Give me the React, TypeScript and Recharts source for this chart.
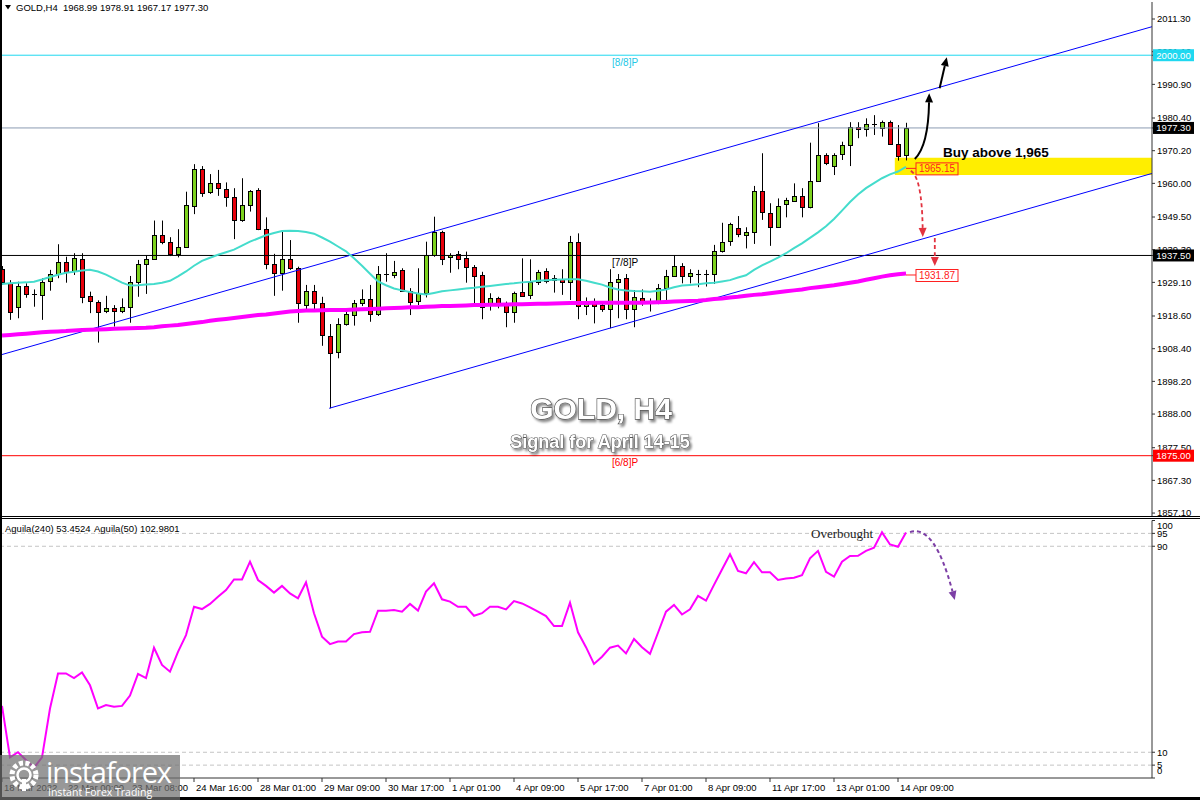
import React from 'react';
import {
  ComposedChart,
  Bar,
  Line,
  XAxis,
  YAxis,
  ReferenceLine,
  ReferenceArea,
  ReferenceDot,
} from 'recharts';

const FONT = '"Liberation Sans", Arial, Helvetica, sans-serif';

// ---------- price data (H4 candles) ----------
const opens = [
  1933.2, 1929.0, 1921.3, 1928.0, 1925.4, 1925.1, 1929.5, 1931.6, 1935.4, 1932.4,
  1936.4, 1924.8, 1923.1, 1920.0, 1921.0, 1920.0, 1921.3, 1929.1, 1934.8, 1936.4,
  1943.8, 1941.6, 1937.9, 1940.2, 1953.2, 1964.6, 1957.2, 1960.0, 1958.3, 1955.7,
  1948.4, 1953.2, 1957.9, 1945.7, 1934.8, 1931.9, 1936.3, 1933.5, 1922.0, 1926.4,
  1922.6, 1912.5, 1907.3, 1916.0, 1918.7, 1922.6, 1923.8, 1919.1, 1931.7, 1931.2,
  1933.0, 1926.5, 1923.1, 1925.7, 1937.6, 1944.9, 1936.9, 1937.9, 1936.6, 1933.8,
  1931.5, 1921.8, 1924.1, 1922.3, 1919.8, 1926.0, 1924.9, 1929.1, 1932.6, 1929.7,
  1930.3, 1929.3, 1941.8, 1921.9, 1923.1, 1922.0, 1920.8, 1929.3, 1930.4, 1921.0,
  1924.1, 1922.6, 1922.6, 1927.3, 1931.2, 1934.3, 1930.9, 1931.7, 1931.7, 1931.7,
  1939.0, 1941.8, 1946.2, 1944.1, 1944.9, 1957.7, 1950.8, 1946.5, 1953.6, 1954.6,
  1956.2, 1952.7, 1960.8, 1968.9, 1965.5, 1969.1, 1972.0, 1977.5, 1976.9, 1978.4,
  1977.2, 1979.2, 1972.2, 1968.99,
];
const highs = [
  1934.2, 1929.8, 1929.3, 1928.8, 1926.9, 1930.4, 1933.0, 1941.0, 1937.1, 1938.2,
  1938.2, 1926.2, 1923.5, 1924.9, 1922.0, 1924.1, 1931.1, 1936.1, 1937.6, 1948.4,
  1948.4, 1943.2, 1945.7, 1957.4, 1966.0, 1965.4, 1962.9, 1964.2, 1960.3, 1958.5,
  1961.6, 1957.9, 1958.5, 1949.4, 1938.0, 1945.4, 1942.3, 1934.0, 1928.3, 1928.3,
  1924.6, 1916.1, 1917.9, 1920.0, 1923.6, 1926.9, 1928.3, 1934.2, 1938.2, 1935.8,
  1933.5, 1927.3, 1933.5, 1941.8, 1949.6, 1945.2, 1938.2, 1938.9, 1938.7, 1934.5,
  1932.4, 1925.7, 1924.6, 1923.1, 1926.2, 1936.6, 1936.3, 1933.0, 1933.5, 1931.4,
  1933.2, 1943.6, 1944.4, 1924.4, 1924.1, 1923.1, 1933.2, 1931.7, 1931.7, 1926.7,
  1926.9, 1924.1, 1928.6, 1933.0, 1937.6, 1935.1, 1933.2, 1933.0, 1933.0, 1940.8,
  1947.7, 1947.7, 1949.8, 1946.3, 1959.2, 1969.4, 1953.8, 1955.3, 1955.5, 1960.0,
  1958.5, 1972.7, 1978.8, 1969.4, 1969.4, 1973.0, 1979.1, 1979.1, 1980.3, 1981.3,
  1979.6, 1979.6, 1978.2, 1978.91,
];
const lows = [
  1928.3, 1917.4, 1917.9, 1924.3, 1921.5, 1917.4, 1926.5, 1930.4, 1929.0, 1931.4,
  1922.6, 1919.5, 1910.3, 1919.5, 1915.3, 1919.5, 1916.5, 1924.6, 1925.5, 1936.1,
  1941.0, 1937.3, 1936.9, 1940.0, 1950.4, 1955.8, 1956.7, 1956.1, 1952.7, 1942.6,
  1948.0, 1951.2, 1945.4, 1933.2, 1924.9, 1926.5, 1933.0, 1916.5, 1920.7, 1920.7,
  1909.3, 1889.8, 1905.4, 1915.6, 1915.6, 1921.7, 1916.8, 1918.6, 1929.3, 1930.4,
  1926.2, 1918.9, 1922.0, 1924.4, 1937.1, 1934.5, 1932.1, 1933.2, 1929.0, 1922.6,
  1917.6, 1920.3, 1921.0, 1915.1, 1916.5, 1924.6, 1923.9, 1928.3, 1928.8, 1925.9,
  1925.2, 1923.6, 1917.6, 1918.9, 1916.3, 1919.9, 1914.8, 1917.9, 1917.6, 1915.1,
  1921.8, 1920.0, 1922.3, 1923.1, 1930.9, 1928.8, 1928.8, 1927.6, 1927.8, 1928.6,
  1938.4, 1940.5, 1943.2, 1939.7, 1941.1, 1948.6, 1940.5, 1946.2, 1949.4, 1954.3,
  1949.4, 1952.2, 1960.5, 1965.7, 1962.6, 1967.3, 1965.4, 1974.1, 1974.6, 1975.1,
  1974.6, 1972.0, 1967.1, 1967.17,
];
const closes = [
  1929.0, 1920.0, 1928.0, 1925.4, 1925.3, 1929.3, 1931.6, 1935.4, 1932.4, 1936.6,
  1924.6, 1923.1, 1920.0, 1921.0, 1920.0, 1921.3, 1929.1, 1934.8, 1936.4, 1943.8,
  1941.6, 1937.9, 1940.2, 1953.2, 1964.6, 1957.2, 1960.0, 1958.3, 1955.7, 1948.4,
  1953.2, 1957.6, 1945.7, 1934.8, 1931.9, 1936.3, 1933.5, 1922.6, 1926.4, 1922.6,
  1912.5, 1907.3, 1916.0, 1919.1, 1922.6, 1923.8, 1919.1, 1931.7, 1931.4, 1932.2,
  1926.5, 1923.1, 1925.7, 1937.6, 1944.7, 1936.6, 1937.6, 1936.4, 1933.8, 1930.9,
  1921.5, 1924.1, 1922.3, 1919.8, 1925.7, 1924.9, 1929.1, 1932.2, 1929.6, 1930.4,
  1929.3, 1941.8, 1921.7, 1923.1, 1922.0, 1920.8, 1929.3, 1930.1, 1920.8, 1924.6,
  1922.6, 1922.7, 1927.3, 1931.2, 1934.3, 1931.2, 1931.9, 1931.75, 1931.8, 1939.0,
  1941.8, 1947.2, 1944.2, 1944.9, 1957.7, 1951.0, 1946.5, 1953.0, 1954.8, 1956.2,
  1952.7, 1960.8, 1968.9, 1966.3, 1968.9, 1972.0, 1977.5, 1976.9, 1978.4, 1978.0,
  1979.2, 1972.2, 1968.6, 1977.3,
];
// moving averages (cyan fast, magenta slow)
const maFast = [
  1928.6, 1928.8, 1929.0, 1929.1, 1929.3, 1930.0, 1930.8, 1931.5, 1932.1, 1932.4,
  1932.8, 1933.0, 1932.5, 1931.5, 1930.3, 1929.0, 1928.1, 1928.2, 1928.4, 1928.6,
  1929.0, 1929.6, 1931.0, 1932.5, 1934.3, 1935.8, 1936.8, 1937.7, 1938.5, 1939.3,
  1940.6, 1941.8, 1942.8, 1943.8, 1944.5, 1945.1, 1945.2, 1945.1, 1944.8, 1944.3,
  1943.1, 1941.8, 1940.3, 1938.8, 1936.6, 1934.3, 1931.8, 1929.4, 1928.2, 1927.2,
  1926.6, 1926.1, 1925.6, 1925.3, 1925.8, 1926.3, 1926.6, 1926.9, 1927.2, 1927.4,
  1927.7, 1928.0, 1928.3, 1928.6, 1928.8, 1929.1, 1929.3, 1929.6, 1929.8, 1929.9,
  1930.0, 1930.1, 1930.1, 1929.6, 1929.0, 1928.4, 1927.5, 1926.9, 1926.6, 1926.4,
  1926.3, 1926.2, 1926.5, 1926.9, 1927.6, 1928.1, 1928.3, 1928.5, 1928.8, 1929.0,
  1929.4, 1929.8, 1930.6, 1931.3, 1933.0, 1934.4, 1935.6, 1936.8, 1938.2, 1939.8,
  1941.3, 1943.0, 1944.7, 1946.6, 1948.9, 1951.5, 1954.2, 1956.5, 1958.5, 1960.1,
  1961.6, 1962.8, 1963.7, 1965.15,
];
const maSlow = [
  1912.5, 1912.7, 1912.9, 1913.1, 1913.3, 1913.5, 1913.7, 1913.8, 1913.9, 1914.1,
  1914.2, 1914.3, 1914.4, 1914.5, 1914.6, 1914.7, 1914.8, 1914.85, 1914.9, 1915.1,
  1915.4, 1915.6, 1915.8, 1916.1, 1916.4, 1916.7, 1917.1, 1917.4, 1917.7, 1918.0,
  1918.3, 1918.6, 1918.9, 1919.1, 1919.4, 1919.7, 1920.0, 1920.2, 1920.3, 1920.35,
  1920.4, 1920.45, 1920.5, 1920.5, 1920.6, 1920.7, 1920.8, 1920.9, 1921.0, 1921.1,
  1921.2, 1921.3, 1921.35, 1921.5, 1921.6, 1921.7, 1921.7, 1921.8, 1921.9, 1922.0,
  1922.05, 1922.1, 1922.15, 1922.2, 1922.25, 1922.3, 1922.35, 1922.4, 1922.45, 1922.5,
  1922.6, 1922.65, 1922.7, 1922.7, 1922.75, 1922.75, 1922.75, 1922.75, 1922.75, 1922.75,
  1922.75, 1922.8, 1922.9, 1923.0, 1923.1, 1923.2, 1923.3, 1923.4, 1923.6, 1923.9,
  1924.1, 1924.4, 1924.6, 1924.9, 1925.2, 1925.4, 1925.7, 1926.0, 1926.3, 1926.6,
  1926.9, 1927.3, 1927.6, 1927.9, 1928.2, 1928.6, 1929.0, 1929.4, 1929.9, 1930.4,
  1930.9, 1931.3, 1931.65, 1931.87,
];
// oscillator (Aguila 240)
const aguila = [
  28, 8, 10, 7, 4, 8, 27, 40.6, 40.6, 38.8,
  41, 36, 27, 28.3, 27.7, 28, 32, 40.4, 38.8, 50.6,
  43.9, 41.3, 49, 55.5, 66.5, 65.6, 67.6, 70.4, 73, 77.1,
  77.1, 84, 76.9, 74.6, 72, 74.6, 71.7, 69.8, 76, 64,
  54.9, 52, 53, 53, 55.9, 56.6, 56.8, 65, 65, 65.2,
  64.6, 67.6, 65, 72.4, 75.6, 69.4, 68.5, 66.5, 66.5, 63,
  64, 66.5, 66.5, 65.5, 68.7, 67.8, 66.3, 64.6, 62.9, 59,
  59, 68.1, 56.6, 50.8, 44.3, 47.1, 50.6, 51.4, 48.4, 54,
  50.8, 48.2, 56.4, 64.6, 67.2, 63.5, 65.5, 70.7, 68.9, 75,
  81, 86.9, 80.4, 79.5, 83.8, 79.9, 79.9, 76.9, 77.5, 77.8,
  78.8, 85.3, 88.2, 80.1, 78.2, 84, 86.2, 86.3, 88.2, 89.4,
  95.4, 90.7, 89.8, 95.3,
];

// axis ticks / labels
const timeTickIdx = [0, 8, 16, 24, 32, 40, 48, 56, 64, 72, 80, 88, 96, 104, 112];
const timeTickLabels = [
  '18 Mar 2022', '22 Mar 00:00', '23 Mar 08:00', '24 Mar 16:00', '28 Mar 01:00',
  '29 Mar 09:00', '30 Mar 17:00', '1 Apr 01:00', '4 Apr 09:00', '5 Apr 17:00',
  '7 Apr 01:00', '8 Apr 09:00', '11 Apr 17:00', '13 Apr 01:00', '14 Apr 09:00',
];
const priceTicks = [
  2011.3, 2001.1, 1990.9, 1980.4, 1970.2, 1960.0, 1949.5, 1939.3,
  1929.1, 1918.6, 1908.4, 1898.2, 1888.0, 1877.5, 1867.3, 1857.1,
];
const oscTicks = [0, 5, 10, 90, 95, 100];
const oscLevels = [95, 90, 10, 5];

// horizontal levels
const levelPrices = [2000.0, 1977.3, 1937.5, 1875.0];
const levelTags = ['[8/8]P', '', '[7/8]P', '[6/8]P'];
const levelColors = ['#1fd8f0', '#8c9cb2', '#000000', '#ff0000'];
const levelTagColors = ['#22c8e6', '#000000', '#000000', '#ff0000'];
const levelBoxColors = ['#1fd8f0', '#000000', '#000000', '#ff0000'];

// channel (index, price)
const channelUpper = [[-0.25, 1906.4], [143.75, 2008.9]];
const channelLower = [[40.9, 1889.8], [143.75, 1963.1]];
// buy zone
const buyZone = { x1: 111.6, x2: 143.75, y1: 1962.6, y2: 1968.0 };

// annotation arrows [fromIdx, fromVal, toIdx, toVal]
const priceArrows = [
  { p: [114.1, 1967.6, 115.9, 1988.1], color: '#000', dashed: false, bend: [0.94, 0.2], w: 2 },
  { p: [117.2, 1989.7, 118.1, 1999.4], color: '#000', dashed: false, bend: [0.5, 0.5], w: 2 },
  { p: [113.6, 1963.9, 115.1, 1943.3], color: '#e2323f', dashed: true, bend: [0.92, 0.1], w: 1.8 },
  { p: [116.6, 1942.95, 116.6, 1934.2], color: '#e2323f', dashed: true, bend: [0.5, 0.5], w: 1.8 },
];
const oscArrows = [
  { p: [113.5, 95.5, 119.1, 69.1], color: '#7d3fa6', dashed: true, bend: [0.55, -0.12], w: 2 },
];

const X_DOMAIN: [number, number] = [-0.25, 143.75];
const Y_DOMAIN: [number, number] = [1856.18, 2016.61];

const candles = opens.map((o, i) => ({
  i,
  o,
  h: highs[i],
  l: lows[i],
  c: closes[i],
  fast: maFast[i],
  slow: maSlow[i],
}));
const oscData = aguila.map((v, i) => ({ i, v }));
// level boxes are drawn as the last ticks so they sit on top of regular ticks
const priceAxisTicks = [...priceTicks, ...levelPrices];

const GREEN = '#7dd21e';
const RED = '#e8000b';

function Candle(props: any) {
  const { x, y, width, height, payload } = props;
  if (!payload || !isFinite(y)) return null;
  const { o, h, l, c } = payload;
  const k = height / (h - l || 1);
  const cx = Math.floor(x + width / 2) + 0.5;
  const yTop = y + (h - Math.max(o, c)) * k;
  const yBot = y + (h - Math.min(o, c)) * k;
  const bodyH = yBot - yTop;
  const up = c >= o;
  const top = Math.round(yTop) + 0.5;
  return (
    <g>
      <line x1={cx} x2={cx} y1={y} y2={y + height} stroke="#000" strokeWidth={1} />
      {bodyH < 1.3 ? (
        <line x1={cx - 2.5} x2={cx + 2.5} y1={top} y2={top} stroke="#000" strokeWidth={1} />
      ) : (
        <rect
          x={cx - 2}
          y={top}
          width={4}
          height={Math.max(1, Math.round(bodyH))}
          fill={up ? GREEN : RED}
          stroke="#000"
          strokeWidth={1}
        />
      )}
    </g>
  );
}

const arrowShape = (a: any) => (p: any) => {
  const { x1, y1, x2, y2 } = p;
  if (![x1, y1, x2, y2].every((v) => isFinite(v))) return null;
  const qx = x1 + (x2 - x1) * a.bend[0];
  const qy = y1 + (y2 - y1) * a.bend[1];
  let ang = Math.atan2(y2 - qy, x2 - qx);
  if (Math.abs(x2 - qx) < 0.01 && Math.abs(y2 - qy) < 0.01) ang = Math.atan2(y2 - y1, x2 - x1);
  const L = 9;
  const W = 4;
  const bx = x2 - L * Math.cos(ang);
  const by = y2 - L * Math.sin(ang);
  const px = -Math.sin(ang) * W;
  const py = Math.cos(ang) * W;
  return (
    <g>
      <path
        d={`M${x1},${y1} Q${qx},${qy} ${bx},${by}`}
        fill="none"
        stroke={a.color}
        strokeWidth={a.w}
        strokeDasharray={a.dashed ? '4 3' : undefined}
      />
      <polygon points={`${x2},${y2} ${bx + px},${by + py} ${bx - px},${by - py}`} fill={a.color} />
    </g>
  );
};

const levelTag = (idx: number) => (props: any) => {
  const vb = props.viewBox || {};
  if (!levelTags[idx]) return null;
  return (
    <text
      x={(vb.x ?? 0) + 612}
      y={(vb.y ?? 0) + 7}
      dy="0.35em"
      fontSize={10}
      fontFamily={FONT}
      fill={levelTagColors[idx]}
    >
      {levelTags[idx]}
    </text>
  );
};

const PriceTick = (p: any) => {
  const v = p.payload?.value;
  const k = levelPrices.indexOf(v);
  if (k >= 0) {
    const x = p.x - 4;
    return (
      <g>
        <rect x={x} y={p.y - 6} width={41} height={12} fill={levelBoxColors[k]} />
        <text x={x + 20.5} y={p.y} dy="0.35em" textAnchor="middle" fontSize={9.5} fontFamily={FONT} fill="#fff">
          {Number(v).toFixed(2)}
        </text>
      </g>
    );
  }
  return (
    <text x={p.x} y={p.y} dy="0.35em" textAnchor="start" fontSize={9.5} fontFamily={FONT} fill="#000">
      {Number(v).toFixed(2)}
    </text>
  );
};

const valueTag = (text: string) => (p: any) => {
  const { cx, cy } = p;
  if (!isFinite(cx) || !isFinite(cy)) return null;
  const yy = cy + 1.5;
  return (
    <g>
      <line x1={cx} x2={cx + 10} y1={yy} y2={yy} stroke="#ff2020" strokeWidth={1} />
      <rect x={cx + 10} y={yy - 5.5} width={42} height={12} fill="none" stroke="#ff2020" strokeWidth={1} />
      <text x={cx + 31} y={yy + 0.5} dy="0.35em" textAnchor="middle" fontSize={10} fontFamily={FONT} fill="#ff2020">
        {text}
      </text>
    </g>
  );
};

const XTick = (p: any) => {
  const k = timeTickIdx.indexOf(p.payload?.value);
  if (k < 0) return null;
  return (
    <text x={p.x + 2} y={p.y} dy="0.71em" textAnchor="start" fontSize={9.5} fontFamily={FONT} fill="#000">
      {timeTickLabels[k]}
    </text>
  );
};

const OscTick = (p: any) => {
  const v = p.payload?.value;
  const dy = v === 100 ? 5.5 : v === 0 ? -7 : 0;
  return (
    <text x={p.x} y={p.y + dy} dy="0.35em" textAnchor="start" fontSize={9.5} fontFamily={FONT} fill="#000">
      {v}
    </text>
  );
};

export default function App() {
  return (
    <div style={{ position: 'relative', width: 1200, height: 800, background: '#fff', overflow: 'hidden' }}>
      <style>{'body{margin:0;background:#fff}'}</style>

      {/* price panel */}
      <div style={{ position: 'absolute', left: 0, top: 0 }}>
        <ComposedChart width={1200} height={520} data={candles} margin={{ top: 2, right: 0, bottom: 4, left: 0 }}>
          <XAxis type="number" dataKey="i" domain={X_DOMAIN} allowDataOverflow hide />
          <YAxis
            orientation="right"
            width={48}
            type="number"
            domain={Y_DOMAIN}
            allowDataOverflow
            ticks={priceAxisTicks}
            interval={0}
            tickSize={3}
            tickMargin={2}
            axisLine={{ stroke: '#333' }}
            tickLine={{ stroke: '#333' }}
            tick={PriceTick}
          />
          <ReferenceArea
            x1={buyZone.x1}
            x2={buyZone.x2}
            y1={buyZone.y1}
            y2={buyZone.y2}
            fill="#ffee00"
            fillOpacity={1}
            stroke="none"
            ifOverflow="visible"
          />
          {levelPrices.map((v, k) => (
            <ReferenceLine
              key={'lv' + k}
              y={v}
              stroke={levelColors[k]}
              strokeWidth={1}
              ifOverflow="visible"
              label={levelTag(k)}
            />
          ))}
          <ReferenceLine
            segment={[
              { x: channelUpper[0][0], y: channelUpper[0][1] },
              { x: channelUpper[1][0], y: channelUpper[1][1] },
            ]}
            stroke="#0000ff"
            strokeWidth={1}
            ifOverflow="visible"
          />
          <ReferenceLine
            segment={[
              { x: channelLower[0][0], y: channelLower[0][1] },
              { x: channelLower[1][0], y: channelLower[1][1] },
            ]}
            stroke="#0000ff"
            strokeWidth={1}
            ifOverflow="visible"
          />
          <Bar dataKey={(d: any) => [d.l, d.h]} barSize={5} shape={Candle} isAnimationActive={false} />
          <Line dataKey="fast" stroke="#44dccc" strokeWidth={2} dot={false} isAnimationActive={false} />
          <Line dataKey="slow" stroke="#ff00ff" strokeWidth={4} dot={false} isAnimationActive={false} />
          <ReferenceDot
            x={113}
            y={maFast[113]}
            r={0}
            ifOverflow="visible"
            shape={valueTag(maFast[113].toFixed(2))}
          />
          <ReferenceDot
            x={113}
            y={maSlow[113]}
            r={0}
            ifOverflow="visible"
            shape={valueTag(maSlow[113].toFixed(2))}
          />
          {priceArrows.map((a, k) => (
            <ReferenceLine
              key={'pa' + k}
              segment={[
                { x: a.p[0], y: a.p[1] },
                { x: a.p[2], y: a.p[3] },
              ]}
              ifOverflow="visible"
              stroke={a.color}
              shape={arrowShape(a)}
            />
          ))}
        </ComposedChart>
      </div>

      {/* panel separator */}
      <div
        style={{
          position: 'absolute',
          left: 0,
          top: 516,
          width: 1200,
          height: 1,
          background: '#fff',
          borderTop: '1px solid #000',
          borderBottom: '1px solid #000',
        }}
      />

      {/* oscillator panel */}
      <div style={{ position: 'absolute', left: 0, top: 518 }}>
        <ComposedChart width={1200} height={282} data={oscData} margin={{ top: 2.5, right: 0, bottom: 0, left: 0 }}>
          <XAxis
            type="number"
            dataKey="i"
            domain={X_DOMAIN}
            allowDataOverflow
            ticks={timeTickIdx}
            interval={0}
            height={22}
            tickSize={4}
            tickMargin={2}
            axisLine={{ stroke: '#333' }}
            tickLine={{ stroke: '#333' }}
            tick={XTick}
          />
          <YAxis
            orientation="right"
            width={48}
            type="number"
            domain={[0, 100]}
            allowDataOverflow
            ticks={oscTicks}
            interval={0}
            tickSize={3}
            tickMargin={2}
            axisLine={{ stroke: '#333' }}
            tickLine={{ stroke: '#333' }}
            tick={OscTick}
          />
          {oscLevels.map((v) => (
            <ReferenceLine key={'ol' + v} y={v} stroke="#c4c4c4" strokeDasharray="4 3" strokeWidth={1} />
          ))}
          <Line dataKey="v" stroke="#ff00ff" strokeWidth={2} dot={false} isAnimationActive={false} />
          {oscArrows.map((a, k) => (
            <ReferenceLine
              key={'oa' + k}
              segment={[
                { x: a.p[0], y: a.p[1] },
                { x: a.p[2], y: a.p[3] },
              ]}
              ifOverflow="visible"
              stroke={a.color}
              shape={arrowShape(a)}
            />
          ))}
        </ComposedChart>
      </div>

      {/* text annotations, frame and logo */}
      <svg
        width={1200}
        height={800}
        style={{ position: 'absolute', left: 0, top: 0, pointerEvents: 'none' }}
      >
        <defs>
          <filter id="tshadow" x="-10%" y="-30%" width="130%" height="170%">
            <feDropShadow dx="2" dy="2.5" stdDeviation="1.3" floodColor="#000" floodOpacity="0.45" />
          </filter>
        </defs>
        <polygon points="5,5 11,5 8,9.5" fill="#000" />
        <text x={16} y={10.5} fontSize={9.5} fontFamily={FONT} fill="#000">
          GOLD,H4
        </text>
        <text x={63} y={10.5} fontSize={9.5} fontFamily={FONT} fill="#000">
          1968.99 1978.91 1967.17 1977.30
        </text>

        <g filter="url(#tshadow)">
          <text
            x={601}
            y={419}
            textAnchor="middle"
            fontSize={30}
            fontWeight="bold"
            fontFamily={FONT}
            fill="#fff"
            stroke="#555"
            strokeWidth={1.3}
            paintOrder="stroke"
          >
            GOLD, H4
          </text>
          <text
            x={600}
            y={448}
            textAnchor="middle"
            fontSize={18}
            fontWeight="bold"
            fontFamily={FONT}
            fill="#fff"
            stroke="#555"
            strokeWidth={1.1}
            paintOrder="stroke"
          >
            Signal for April 14-15
          </text>
        </g>

        <text x={943} y={157} fontSize={13.5} fontWeight="bold" fontFamily={FONT} fill="#000">
          Buy above 1,965
        </text>

        <text x={5} y={531.5} fontSize={9.5} fontFamily={FONT} fill="#000">
          Aguila(240) 53.4524
        </text>
        <text x={94} y={531.5} fontSize={9.5} fontFamily={FONT} fill="#000">
          Aguila(50) 102.9801
        </text>
        <text x={811} y={537.5} fontSize={13} fontFamily='"Liberation Serif", "Times New Roman", serif' fill="#222">
          Overbought
        </text>

        {/* frame */}
        <rect x={0} y={0} width={2} height={800} fill="#000" />
        <rect x={0} y={797} width={1200} height={3} fill="#000" />

        {/* logo */}
        <g>
          <rect x={0} y={755} width={180} height={45} fill="#707070" opacity={0.72} />
          <circle cx={24} cy={775} r={12} fill="none" stroke="#fff" strokeWidth={5} strokeDasharray="4 2.4" />
          <circle cx={24} cy={775} r={6.5} fill="none" stroke="#fff" strokeWidth={2.5} />
          <rect x={22} y={779} width={4} height={12} fill="#fff" />
          <text
            x={46}
            y={783}
            fontSize={29}
            fontFamily='"Open Sans", "Liberation Sans", sans-serif'
            fill="#fff"
            letterSpacing={-1.1}
          >
            instaforex
          </text>
          <text x={48} y={795.5} fontSize={10.5} fontFamily='"Open Sans", "Liberation Sans", sans-serif' fill="#fff">
            Instant Forex Trading
          </text>
        </g>
      </svg>
    </div>
  );
}
